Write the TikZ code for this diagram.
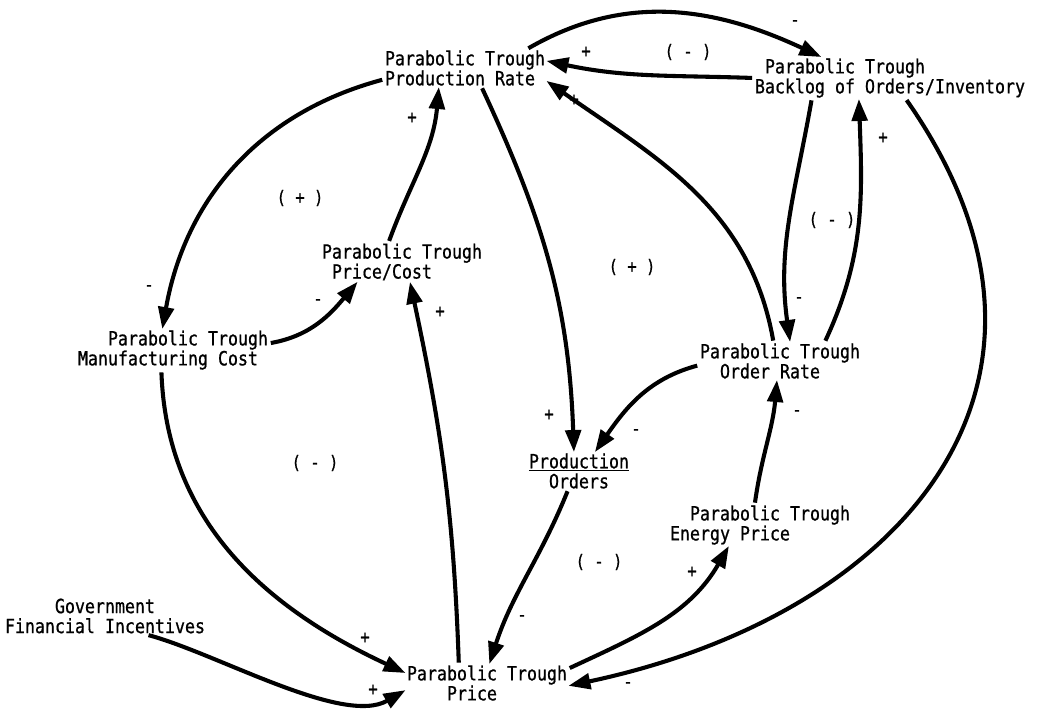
\documentclass[tikz,border=0pt]{standalone}
\usepackage{fontspec}
\setmonofont{DejaVu Sans Mono}[FakeStretch=0.85, FakeBold=0.8]
\usetikzlibrary{arrows.meta}
\tikzset{
   var/.style = {%
    inner sep=1pt, outer sep=0pt,
    font=\ttfamily\fontsize{13.9}{14.2}\selectfont},
  link/.style = {%
    draw=black,
    line width=2.9pt,
    -{Triangle[length=5.5mm,width=3.9mm]},
    shorten <=1pt},
   sgn/.style = {%
    inner sep=0pt,
    font=\ttfamily\fontsize{13}{13}\selectfont},
    }

\begin{document}
\begin{tikzpicture}[x=0.025cm, y=-0.025cm]
    \useasboundingbox (0,0) rectangle (1037,715);
    % variables
    \node[var, align=left] (prate) at (465,68) {Parabolic Trough\\Production Rate};
    \node[var, align=left] (blog) at (890,78) {\hphantom{P}Parabolic Trough\\Backlog of Orders/Inventory};
    \node[var, align=left] (pcost) at (402,262) {Parabolic Trough\\\hphantom{P}Price/Cost};
    \node[var, align=left] (mcost) at (173,350) {\hphantom{PPP}Parabolic Trough\\Manufacturing Cost};
    \node[var, align=left] (orate) at (780,361) {Parabolic Trough\\\hphantom{PP}Order Rate};
    \node[var, align=center] (porders) at (579,471) {\underline{Production}\\Orders};
    \node[var, align=left] (eprice) at (760,525) {\hphantom{PP}Parabolic Trough\\Energy Price};
    \node[var, align=left] (price) at (487,683) {Parabolic Trough\\\hphantom{PPPP}Price};
    \node[var, align=center] (gov) at (105,616) {Government\\Financial Incentives};

    % links
    \draw[link] (prate.17) to[out=30,in=155] (blog.163);
    \draw[link] (blog.west) to[out=178,in=-12] (prate.5);
    \draw[link] (orate.109) to[out=100,in=-35] (prate.-9);
    \draw[link] (pcost.124) to[out=70,in=-95] (prate.-144);
    \draw[link] (prate.-49) to[out=-65,in=92] (porders.105);
    \draw[link] (prate.188) to[out=195,in=80] (mcost.117);
    \draw[link] (mcost.4) to[out=10,in=-130] (pcost.204);
    \draw[link] (mcost.-119) to[out=-88,in=155] (price.173);
    \draw[link] (price.146) to[out=92,in=-78] (pcost.-68);
    \draw[link] (porders.-120) to[out=-112,in=72] (price.83);
    \draw[link] (gov.-24) to[out=-15,in=-150,looseness=0.7] (price.185);
    \draw[link] (price.10) to[out=25,in=-120] (eprice.214);
    \draw[link] (eprice.104) to[out=82,in=-95] (orate.-99);
    \draw[link] (orate.183) to[out=195,in=55] (porders.50);
    \draw[link] (blog.195) to[out=-100,in=98] (orate.62);
    \draw[link] (orate.23) to[out=65,in=-88] (blog.214);
    \draw[link] (blog.-53) to[out=-55,in=12,looseness=1.3] (price.-2);

    % loop polarities
    \node[sgn] (loopa) at (688,52) {( - )};
    \node[sgn] (loopb) at (300,198) {( + )};
    \node[sgn] (loopc) at (632,267) {( + )};
    \node[sgn] (loopd) at (832,220) {( - )};
    \node[sgn] (loope) at (315,463) {( - )};
    \node[sgn] (loopf) at (599,562) {( - )};

    % link polarities
    \node[sgn] (sa) at (795,23) {-};
    \node[sgn] (sb) at (586,52) {+};
    \node[sgn] (sc) at (574,100) {+};
    \node[sgn] (sd) at (412,118) {+};
    \node[sgn] (se) at (149,288) {-};
    \node[sgn] (sf) at (318,302) {-};
    \node[sgn] (sg) at (440,312) {+};
    \node[sgn] (sh) at (883,138) {+};
    \node[sgn] (si) at (799,300) {-};
    \node[sgn] (sj) at (549,415) {+};
    \node[sgn] (sk) at (636,432) {-};
    \node[sgn] (sl) at (797,413) {-};
    \node[sgn] (sm) at (692,572) {+};
    \node[sgn] (sn) at (522,618) {-};
    \node[sgn] (so) at (365,638) {+};
    \node[sgn] (sp) at (373,690) {+};
    \node[sgn] (sq) at (628,685) {-};
\end{tikzpicture}
\end{document}
